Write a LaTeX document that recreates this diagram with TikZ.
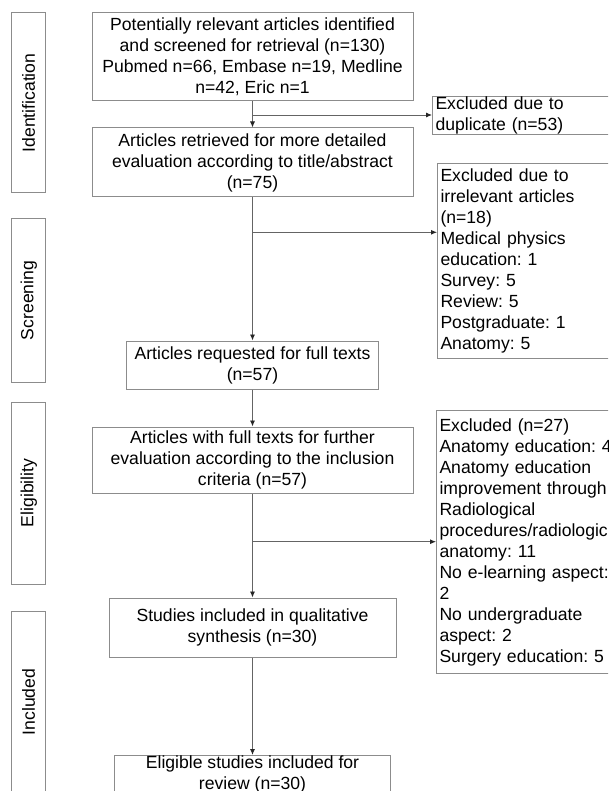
\documentclass[tikz,border=0pt]{standalone}
\usepackage{fontspec}
\setmainfont{Liberation Sans}
\usetikzlibrary{arrows.meta,calc}
\definecolor{boxgray}{RGB}{140,140,140}
\definecolor{linegray}{RGB}{100,100,100}
\frenchspacing
\begin{document}
\begin{tikzpicture}[x=1pt,y=-1pt,
  every node/.style={font=\fontsize{17.6}{21}\selectfont\frenchspacing, inner sep=0pt},
  box/.style={draw=boxgray, line width=1pt, align=center},
  exbox/.style={draw=boxgray, line width=1pt, align=left, anchor=north west,
    inner xsep=3pt, text width=214pt},
  side/.style={draw=boxgray, line width=1pt, rotate=90, minimum height=34pt},
  conn/.style={draw=linegray, line width=0.9pt},
  arr/.style={conn, -{Latex[length=6pt,width=5pt,color=black!85]}}]
\useasboundingbox (0,0) rectangle (608,791);
\clip (0,0) rectangle (608,791);
\fill[white] (0,0) rectangle (608,791);

% phase labels
\node[side, minimum width=180pt] (ident) at (28.7,103) {Identification};
\node[side, minimum width=163pt] (screen) at (28.7,300.5) {Screening};
\node[side, minimum width=182pt] (elig) at (28.7,493) {Eligibility};
\node[side, minimum width=182pt] (incl) at (28.7,702) {Included};

% main column
\node[box, minimum width=321pt, minimum height=88pt] (b1) at (252.5,57)
  {Potentially relevant articles identified\\and screened for retrieval (n=130)\\Pubmed n=66, Embase n=19, Medline\\n=42, Eric n=1};
\node[box, minimum width=321pt, minimum height=69pt] (b2) at (252.5,162.5)
  {Articles retrieved for more detailed\\evaluation according to title/abstract\\(n=75)};
\node[box, minimum width=252pt, minimum height=48pt] (b3) at (252.5,365)
  {Articles requested for full texts\\(n=57)};
\node[box, minimum width=321pt, minimum height=66pt] (b4) at (252.5,460)
  {Articles with full texts for further\\evaluation according to the inclusion\\criteria (n=57)};
\node[box, minimum width=287pt, minimum height=59pt] (b5) at (252.5,627.5)
  {Studies included in qualitative\\synthesis (n=30)};
\node[box, minimum width=276pt, minimum height=37pt, anchor=north] (b6) at (252.5,755)
  {Eligible studies included for\\review (n=30)};

% exclusion boxes
\node[exbox, minimum height=38pt] (x1) at (432,96)
  {Excluded due to\\duplicate (n=53)};
\node[exbox, minimum height=195pt] (x2) at (437,163)
  {Excluded due to\\irrelevant articles\\(n=18)\\Medical physics\\education: 1\\Survey: 5\\Review: 5\\Postgraduate: 1\\Anatomy: 5};
\node[exbox, minimum height=263pt] (x3) at (436,410)
  {Excluded (n=27)\\Anatomy education: 4\\Anatomy education\\improvement through\\Radiological\\procedures/radiologic\\anatomy: 11\\No e-learning aspect:\\2\\No undergraduate\\aspect: 2\\Surgery education: 5};

% connectors
\coordinate (j1) at (252.5,115);
\coordinate (j2) at (252.5,232.3);
\coordinate (j3) at (252.5,541.7);
\draw[arr] (b1) -- (b2);
\draw[arr] (j1) -- (j1 -| x1.west);
\draw[arr] (b2) -- (b3);
\draw[arr] (j2) -- (j2 -| x2.west);
\draw[arr] (b3) -- (b4);
\draw[arr] (b4) -- (b5);
\draw[arr] (j3) -- (j3 -| x3.west);
\draw[arr] (b5) -- (b6);
\end{tikzpicture}
\end{document}
